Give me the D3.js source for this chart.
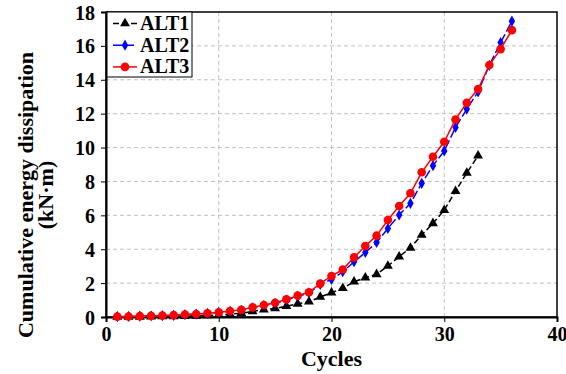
<!DOCTYPE html>
<html>
<head>
<meta charset="utf-8">
<script src="https://cdn.jsdelivr.net/npm/d3@7"></script>
<style>
  html, body { margin: 0; padding: 0; background: #fff; }
  svg { display: block; }
  svg text { font-family: "Liberation Serif", "Times New Roman", serif; font-weight: bold; fill: #000; }
</style>
</head>
<body>
<svg id="chart" width="566" height="374"></svg>
<script>
// Cumulative energy dissipation (kN·m) per loading cycle
const cycles1 = d3.range(1, 34);
const cycles23 = d3.range(1, 37);

const alt1 = [0.00, 0.01, 0.01, 0.02, 0.03, 0.04, 0.05, 0.07, 0.09, 0.12,
              0.17, 0.22, 0.33, 0.43, 0.50, 0.64, 0.78, 0.90, 1.18, 1.43,
              1.70, 2.08, 2.32, 2.52, 3.01, 3.56, 4.08, 4.84, 5.53, 6.31,
              7.43, 8.50, 9.52];
const alt2 = [0.02, 0.03, 0.05, 0.06, 0.08, 0.10, 0.14, 0.17, 0.21, 0.27,
              0.33, 0.40, 0.54, 0.68, 0.80, 1.00, 1.22, 1.42, 1.92, 2.22,
              2.67, 3.26, 3.81, 4.40, 5.23, 6.02, 6.71, 7.89, 8.93, 9.80,
              11.19, 12.27, 13.29, 14.85, 16.20, 17.46];
const alt3 = [0.02, 0.03, 0.05, 0.07, 0.09, 0.11, 0.15, 0.18, 0.22, 0.28,
              0.35, 0.42, 0.57, 0.71, 0.84, 1.04, 1.26, 1.46, 1.97, 2.42,
              2.80, 3.52, 4.19, 4.80, 5.72, 6.55, 7.30, 8.54, 9.46, 10.34,
              11.66, 12.64, 13.45, 14.87, 15.81, 16.93];

const xTicks = [0, 10, 20, 30, 40];
const yTicks = [0, 2, 4, 6, 8, 10, 12, 14, 16, 18];

const series = [
  { name: "ALT1", x: cycles1, y: alt1, color: "#000000", dash: "6,3", marker: "triangle" },
  { name: "ALT2", x: cycles23, y: alt2, color: "#0000ff", dash: "9,3", marker: "diamond" },
  { name: "ALT3", x: cycles23, y: alt3, color: "#ff0000", dash: null, marker: "circle" }
];

const FONT = "'Liberation Serif', 'Times New Roman', serif";
const svg = d3.select("#chart");
const plotL = 106, plotR = 557, plotT = 12, plotB = 317;

const x = d3.scaleLinear().domain([0, 40]).range([plotL, plotR]);
const y = d3.scaleLinear().domain([0, 18]).range([plotB, plotT]);

// grid
const grid = svg.append("g");
grid.selectAll("line.gx").data(xTicks.slice(1, -1)).enter().append("line")
  .attr("x1", d => x(d)).attr("x2", d => x(d))
  .attr("y1", plotT).attr("y2", plotB)
  .attr("stroke", "#c0c0c0").attr("stroke-width", 1).attr("stroke-dasharray", "4,3");
grid.selectAll("line.gy").data(yTicks.slice(1, -1)).enter().append("line")
  .attr("x1", plotL).attr("x2", plotR)
  .attr("y1", d => y(d)).attr("y2", d => y(d))
  .attr("stroke", "#c0c0c0").attr("stroke-width", 1).attr("stroke-dasharray", "4,3");

// plot frame
svg.append("rect").attr("x", plotL).attr("y", plotT)
  .attr("width", plotR - plotL).attr("height", plotB - plotT)
  .attr("fill", "none").attr("stroke", "#000").attr("stroke-width", 1.5);

// axes
const xAxis = svg.append("g").attr("transform", `translate(0,${plotB})`)
  .call(d3.axisBottom(x).tickValues(xTicks).tickSize(5).tickPadding(5));
const yAxis = svg.append("g").attr("transform", `translate(${plotL},0)`)
  .call(d3.axisLeft(y).tickValues(yTicks).tickSize(5).tickPadding(6));
[xAxis, yAxis].forEach(a => {
  a.attr("font-family", FONT).attr("font-size", 20).attr("font-weight", "bold");
  a.select(".domain").attr("stroke", "#000").attr("stroke-width", 2);
  a.selectAll(".tick line").attr("stroke", "#000").attr("stroke-width", 1);
  a.selectAll(".tick text").attr("fill", "#000").attr("font-family", FONT)
    .attr("font-weight", "bold").attr("font-size", 20);
});
yAxis.selectAll(".tick text").attr("dy", "0.35em");

// axis titles
svg.append("text").attr("x", (plotL + plotR) / 2).attr("y", 366)
  .attr("text-anchor", "middle").attr("font-family", FONT).attr("font-size", 22).text("Cycles");
const yt = svg.append("text").attr("transform", "translate(0,195) rotate(-90)")
  .attr("text-anchor", "middle").attr("font-family", FONT).attr("font-size", 22);
yt.append("tspan").attr("x", 0).attr("y", 33).text("Cumulative energy dissipation");
yt.append("tspan").attr("x", 0).attr("y", 53).text("(kN·m)");

// marker shapes
const symbols = {
  triangle: d3.symbol().type(d3.symbolTriangle).size(42),
  diamond: d3.symbol().type(d3.symbolDiamond).size(36),
  circle: d3.symbol().type(d3.symbolCircle).size(58)
};

const line = d3.line().x(d => x(d[0])).y(d => y(d[1]));

series.forEach(s => {
  const pts = s.x.map((c, i) => [c, s.y[i]]);
  const g = svg.append("g");
  g.append("path").datum(pts).attr("d", line)
    .attr("fill", "none").attr("stroke", s.color).attr("stroke-width", 1.5)
    .attr("stroke-dasharray", s.dash);
  g.selectAll("path.m").data(pts).enter().append("path")
    .attr("transform", d => `translate(${x(d[0])},${y(d[1])})`)
    .attr("d", symbols[s.marker]).attr("fill", s.color);
});

// legend
const lg = svg.append("g");
lg.append("rect").attr("x", 107).attr("y", 12).attr("width", 85).attr("height", 65)
  .attr("fill", "#fff").attr("stroke", "#000").attr("stroke-width", 1);
series.forEach((s, i) => {
  const cy = 23.5 + i * 21.7;
  lg.append("line").attr("x1", 113).attr("x2", 137).attr("y1", cy).attr("y2", cy)
    .attr("stroke", s.color).attr("stroke-width", 1.5).attr("stroke-dasharray", s.dash);
  lg.append("path").attr("transform", `translate(125,${cy})`).attr("d", symbols[s.marker]).attr("fill", s.color);
  lg.append("text").attr("x", 140).attr("y", cy + 6.5).attr("font-family", FONT)
    .attr("font-size", 20).text(s.name);
});
</script>
</body>
</html>
